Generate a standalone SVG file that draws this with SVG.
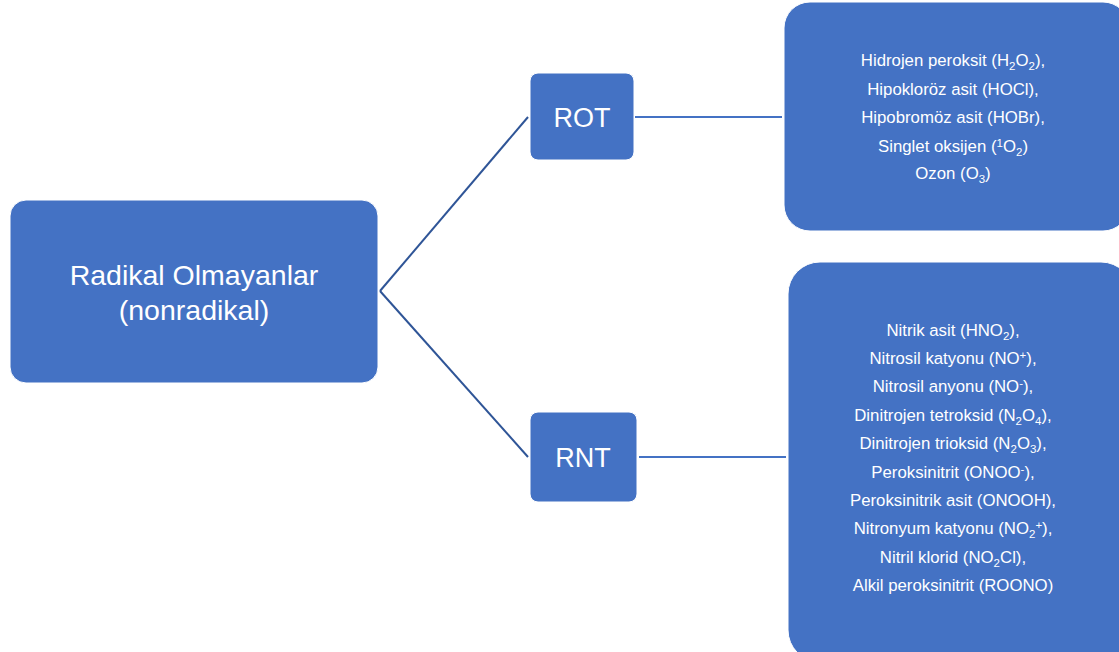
<svg xmlns="http://www.w3.org/2000/svg" width="1119" height="652" viewBox="0 0 1119 652">
<style>
.box{fill:#4472C4;stroke:#FFFFFF;stroke-width:1}
.t{font-family:"Liberation Sans",Arial,sans-serif;fill:#FFFFFF;text-anchor:middle}
.big{font-size:28.5px}
.mid{font-size:27px}
.sm{font-size:16.8px}
.s{font-size:11.5px}
.c1{stroke:#2F5597;stroke-width:2;fill:none}
.c2{stroke:#4472C4;stroke-width:2;fill:none}
</style>
<rect width="1119" height="652" fill="#FFFFFF"/>
<g id="connectors">
<line class="c1" x1="380" y1="291" x2="528" y2="117"/>
<line class="c1" x1="380" y1="291" x2="528" y2="457"/>
<line class="c2" x1="635" y1="117" x2="782" y2="117"/>
<line class="c2" x1="639" y1="457" x2="786" y2="457"/>
</g>
<g id="root">
<rect class="box" x="10" y="200" width="368" height="183" rx="16"/>
<text class="t big" x="194" y="285">Radikal Olmayanlar</text>
<text class="t big" x="194" y="320">(nonradikal)</text>
</g>
<g id="rot">
<rect class="box" x="530" y="73" width="104" height="87" rx="8"/>
<text class="t mid" x="582" y="127">ROT</text>
</g>
<g id="rnt">
<rect class="box" x="530" y="412" width="107" height="90" rx="8"/>
<text class="t mid" x="583" y="467">RNT</text>
</g>
<g id="rot-list">
<rect class="box" x="784" y="2" width="345" height="229" rx="26"/>
<text class="t sm" x="953" y="66">Hidrojen peroksit (H<tspan class="s" dy="4">2</tspan><tspan dy="-4">O</tspan><tspan class="s" dy="4">2</tspan><tspan dy="-4">),</tspan></text>
<text class="t sm" x="953" y="95">Hipokloröz asit (HOCl),</text>
<text class="t sm" x="953" y="123">Hipobromöz asit (HOBr),</text>
<text class="t sm" x="953" y="152">Singlet oksijen (<tspan class="s" dy="-5">1</tspan><tspan dy="5">O</tspan><tspan class="s" dy="4">2</tspan><tspan dy="-4">)</tspan></text>
<text class="t sm" x="953" y="179">Ozon (O<tspan class="s" dy="4">3</tspan><tspan dy="-4">)</tspan></text>
</g>
<g id="rnt-list">
<rect class="box" x="788" y="262" width="345" height="400" rx="32"/>
<text class="t sm" x="953" y="336">Nitrik asit (HNO<tspan class="s" dy="4">2</tspan><tspan dy="-4">),</tspan></text>
<text class="t sm" x="953" y="364">Nitrosil katyonu (NO<tspan class="s" dy="-5">+</tspan><tspan dy="5">),</tspan></text>
<text class="t sm" x="953" y="392">Nitrosil anyonu (NO<tspan class="s" dy="-5">-</tspan><tspan dy="5">),</tspan></text>
<text class="t sm" x="953" y="421">Dinitrojen tetroksid (N<tspan class="s" dy="4">2</tspan><tspan dy="-4">O</tspan><tspan class="s" dy="4">4</tspan><tspan dy="-4">),</tspan></text>
<text class="t sm" x="953" y="449">Dinitrojen trioksid (N<tspan class="s" dy="4">2</tspan><tspan dy="-4">O</tspan><tspan class="s" dy="4">3</tspan><tspan dy="-4">),</tspan></text>
<text class="t sm" x="953" y="478">Peroksinitrit (ONOO<tspan class="s" dy="-5">-</tspan><tspan dy="5">),</tspan></text>
<text class="t sm" x="953" y="506">Peroksinitrik asit (ONOOH),</text>
<text class="t sm" x="953" y="534">Nitronyum katyonu (NO<tspan class="s" dy="4">2</tspan><tspan class="s" dy="-9">+</tspan><tspan dy="5">),</tspan></text>
<text class="t sm" x="953" y="563">Nitril klorid (NO<tspan class="s" dy="4">2</tspan><tspan dy="-4">Cl),</tspan></text>
<text class="t sm" x="953" y="591">Alkil peroksinitrit (ROONO)</text>
</g>
</svg>
